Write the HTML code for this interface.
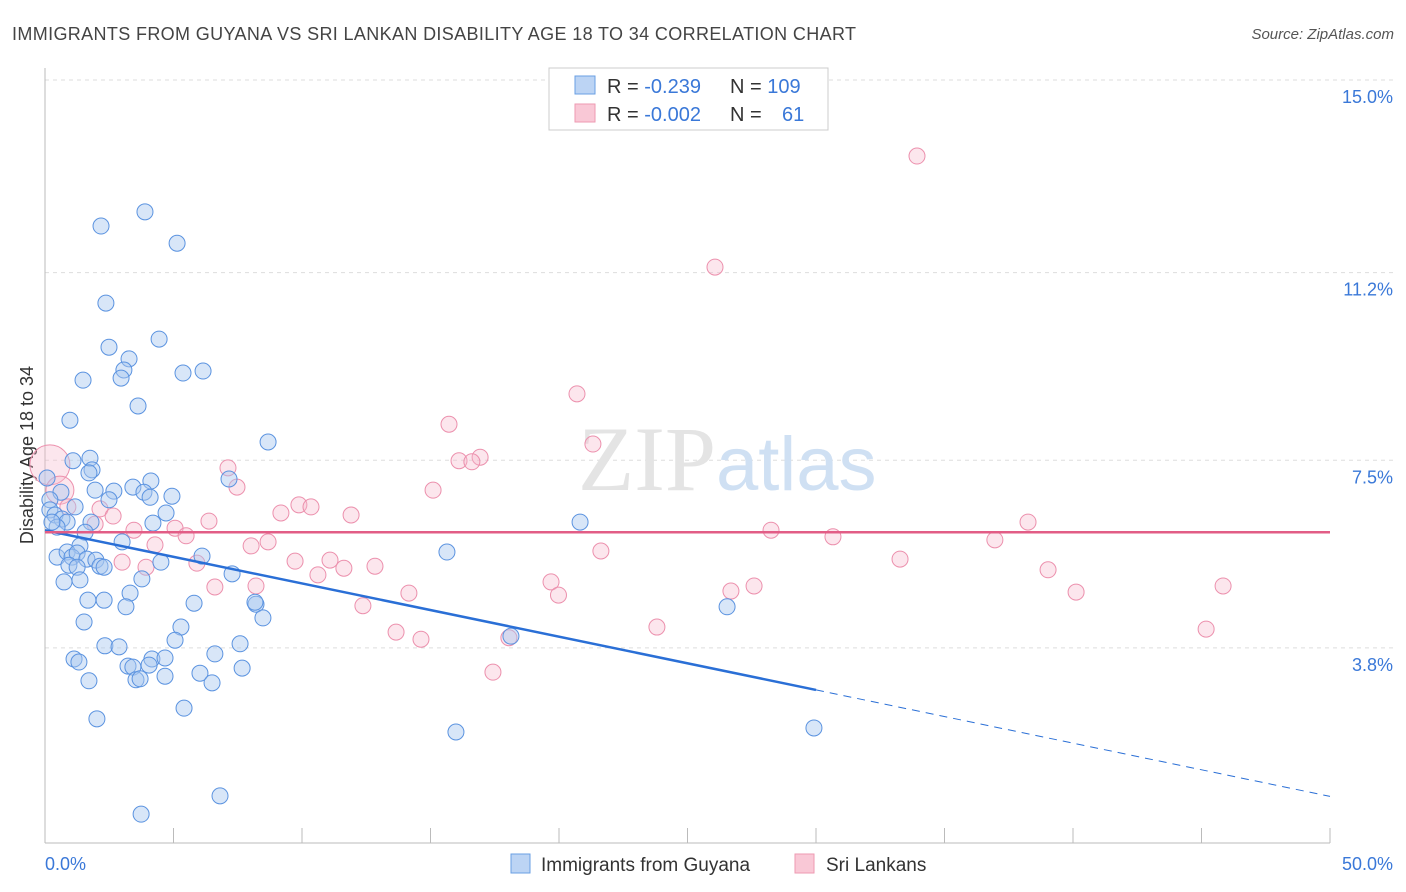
<!DOCTYPE html>
<html><head><meta charset="utf-8"><style>
body{margin:0;background:#fff;font-family:"Liberation Sans",sans-serif;}
svg{display:block}
</style></head><body>
<svg id="chart" width="1406" height="892">
<text x="12" y="40" font-size="18" fill="#444" textLength="844">IMMIGRANTS FROM GUYANA VS SRI LANKAN DISABILITY AGE 18 TO 34 CORRELATION CHART</text>
<text x="1394" y="39" font-size="15" fill="#555" font-style="italic" text-anchor="end">Source: ZipAtlas.com</text>
<g id="grid"></g>
<text x="716" y="490" font-size="92" font-family="Liberation Serif,serif" fill="#e4e4e4" text-anchor="end">ZIP</text>
<text x="716" y="490" font-size="76" fill="#cfe0f3">atlas</text>
<line x1="45" y1="68" x2="45" y2="843" stroke="#bbb"/>
<line x1="45" y1="843" x2="1330" y2="843" stroke="#bbb"/>
<text transform="translate(33,455) rotate(-90)" font-size="18" fill="#333" text-anchor="middle">Disability Age 18 to 34</text>
<text x="45" y="870" font-size="18" fill="#3a78d8">0.0%</text>
<text x="1393" y="870" font-size="18" fill="#3a78d8" text-anchor="end">50.0%</text>
<g id="ticks"></g>
<g id="pts"></g>
<g id="trends"></g>
<g>
<rect x="549" y="68" width="279" height="62" fill="#fff" stroke="#ccc"/>
<rect x="575" y="76" width="20" height="18" fill="#bcd4f4" stroke="#6a9fe3"/>
<rect x="575" y="104" width="20" height="18" fill="#f9c8d6" stroke="#ee9ab2"/>
<text x="607" y="93" font-size="20" fill="#333">R = <tspan fill="#3a78d8">-0.239</tspan><tspan x="730">N = </tspan><tspan fill="#3a78d8">109</tspan></text>
<text x="607" y="121" font-size="20" fill="#333">R = <tspan fill="#3a78d8">-0.002</tspan><tspan x="730">N = </tspan><tspan x="782" fill="#3a78d8">61</tspan></text>
</g>
<g>
<rect x="511" y="854" width="19" height="19" fill="#bcd4f4" stroke="#6a9fe3"/>
<text x="541" y="871" font-size="19" fill="#333">Immigrants from Guyana</text>
<rect x="795" y="854" width="19" height="19" fill="#f9c8d6" stroke="#ee9ab2"/>
<text x="826" y="871" font-size="19" fill="#333">Sri Lankans</text>
</g>
</svg>
<script>
const yTicks=[15.0,11.2,7.5,3.8];
const yTickLabels=["15.0%","11.2%","7.5%","3.8%"];
const blueX=[2.18,3.89,5.14,2.37,2.49,4.44,3.27,3.07,2.96,5.37,6.15,1.48,3.62,0.97,8.68,1.09,1.75,1.83,1.71,4.12,7.16,0.08,0.62,1.95,2.68,3.42,3.85,4.09,4.94,2.49,0.19,0.19,0.39,0.66,0.86,0.47,0.27,1.17,1.79,4.20,4.71,1.56,3.00,1.36,0.47,0.86,1.05,1.25,1.63,1.98,2.14,0.93,1.25,2.30,0.74,1.36,3.77,4.51,6.11,7.28,15.64,20.82,1.67,2.30,3.31,3.15,5.80,8.21,8.17,8.48,26.54,1.52,5.29,5.06,2.33,2.88,7.59,1.13,1.32,6.61,3.23,3.42,4.16,4.67,4.05,7.67,1.71,3.54,3.70,4.67,6.03,6.50,18.13,5.41,2.02,15.99,29.92,6.81,3.74];
const blueY=[12.12,12.40,11.78,10.60,9.73,9.89,9.50,9.28,9.12,9.22,9.26,9.08,8.57,8.29,7.86,7.49,7.54,7.31,7.25,7.09,7.13,7.15,6.87,6.91,6.89,6.97,6.87,6.77,6.79,6.72,6.72,6.52,6.42,6.34,6.28,6.18,6.28,6.58,6.28,6.26,6.46,6.08,5.89,5.81,5.59,5.69,5.59,5.67,5.55,5.53,5.41,5.43,5.39,5.39,5.10,5.14,5.16,5.49,5.61,5.26,5.69,6.28,4.74,4.74,4.88,4.61,4.68,4.66,4.70,4.39,4.61,4.31,4.21,3.95,3.84,3.82,3.88,3.58,3.52,3.68,3.44,3.42,3.58,3.60,3.46,3.40,3.15,3.17,3.19,3.24,3.30,3.11,4.03,2.61,2.40,2.14,2.22,0.88,0.52];
const pinkX=[33.93,26.07,20.70,15.72,21.32,16.93,16.11,16.61,7.12,7.47,15.10,0.19,0.58,0.89,2.14,2.65,9.88,10.35,9.18,11.91,6.38,1.95,3.46,5.06,5.49,28.25,30.66,38.25,36.96,8.68,8.02,4.28,21.63,9.73,11.09,3.00,3.93,5.91,33.27,11.63,12.84,10.62,39.03,19.69,8.21,6.61,27.59,26.69,19.98,14.16,40.12,45.84,12.37,13.66,14.63,23.81,45.18,18.05,17.43];
const pinkY=[13.50,11.31,8.81,8.21,7.82,7.56,7.49,7.47,7.35,6.97,6.91,7.41,6.91,6.58,6.54,6.40,6.62,6.58,6.46,6.42,6.30,6.24,6.12,6.16,6.01,6.12,5.99,6.28,5.93,5.89,5.81,5.83,5.71,5.51,5.53,5.49,5.39,5.47,5.55,5.37,5.41,5.24,5.34,5.10,5.02,5.00,5.02,4.92,4.84,4.88,4.90,5.02,4.63,4.11,3.97,4.21,4.17,4.00,3.32];
const pinkSize=[8,8,8,8,8,8,8,8,8,8,8,20,14,8,8,8,8,8,8,8,8,8,8,8,8,8,8,8,8,8,8,8,8,8,8,8,8,8,8,8,8,8,8,8,8,8,8,8,8,8,8,8,8,8,8,8,8,8,8];
const blueTrend=[6.12,-0.105];
const pinkTrend=[6.08,0];
const blueSolidEnd=30;
const NS="http://www.w3.org/2000/svg";
const sx=v=>45+v*25.7, sy=v=>80+(15-v)*50.7;
function mk(t,a,p){const e=document.createElementNS(NS,t);for(const k in a)e.setAttribute(k,a[k]);p.appendChild(e);return e;}
const grid=document.getElementById('grid'),ticks=document.getElementById('ticks');
yTicks.forEach((t,i)=>{
 const l=mk('line',{x1:45,x2:1393,y1:sy(t),y2:sy(t),stroke:'#ddd','stroke-dasharray':'4,4'},grid);
 
 
 const tx=mk('text',{x:1393,y:sy(t)+23,'font-size':18,fill:'#3a78d8','text-anchor':'end'},ticks);
 tx.textContent=yTickLabels[i];
 
 
});
for(let i=1;i<=10;i++){
 const tk=mk('line',{x1:45+i*128.5,x2:45+i*128.5,y1:828,y2:843,stroke:'#bbb'},grid);
 
 
}
const pts=document.getElementById('pts');
pinkX.forEach((x,i)=>{
 const c=mk('circle',{cx:sx(x),cy:sy(pinkY[i]),r:pinkSize[i],fill:'#f7b8cb','fill-opacity':0.35,stroke:'#ec90ad','stroke-width':1},pts);
 
 
});
blueX.forEach((x,i)=>{
 const c=mk('circle',{cx:sx(x),cy:sy(blueY[i]),r:8,fill:'#a9c8f0','fill-opacity':0.45,stroke:'#5b93e0','stroke-width':1},pts);
 
 
});
const tr=document.getElementById('trends');
const f=(t,x)=>t[0]+t[1]*x;
const b1=mk('line',{x1:sx(0),y1:sy(f(blueTrend,0)),x2:sx(blueSolidEnd),y2:sy(f(blueTrend,blueSolidEnd)),stroke:'#2a6fd6','stroke-width':2.5},tr);


const b2=mk('line',{x1:sx(blueSolidEnd),y1:sy(f(blueTrend,blueSolidEnd)),x2:sx(50),y2:sy(f(blueTrend,50)),stroke:'#2a6fd6','stroke-width':1,'stroke-dasharray':'8,6'},tr);


const p1=mk('line',{x1:sx(0),y1:sy(f(pinkTrend,0)),x2:sx(50),y2:sy(f(pinkTrend,50)),stroke:'#e25d86','stroke-width':2.5},tr);


</script>
</body></html>
